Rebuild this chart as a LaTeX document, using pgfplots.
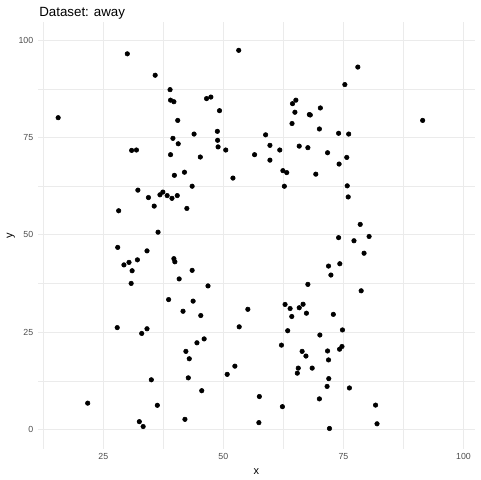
\documentclass[border=0pt]{standalone}
\usepackage{fontspec}
\setmainfont{Liberation Sans}
\usepackage{pgfplots}
\pgfplotsset{compat=1.18}
\definecolor{grid92}{HTML}{EBEBEB}
\definecolor{grey30}{HTML}{4D4D4D}
\begin{document}
\begin{tikzpicture}
\path[use as bounding box] (0,0) rectangle (360pt,360pt);
\begin{axis}[
    at={(28.5pt,23.25pt)}, anchor=south west,
    width=327.75pt, height=320.25pt, scale only axis,
    xmin=11.4, xmax=102.4, ymin=-4.97, ymax=104.67,
    axis line style={draw=none}, major tick length=0pt, minor tick length=0pt,
    xtick={25,50,75,100}, ytick={0,25,50,75,100},
    minor xtick={12.5,37.5,62.5,87.5}, minor ytick={12.5,37.5,62.5,87.5},
    grid=both,
    major grid style={color=grid92, line width=0.8pt},
    minor grid style={color=grid92, line width=0.4pt},
    /pgf/number format/assume math mode=true,
    ticklabel style={font=\fontsize{6.6}{7}\selectfont, text=grey30},
    xlabel={x}, ylabel={y},
    xlabel style={font=\fontsize{8.25}{9}\selectfont},
    every axis y label/.style={at={(axis description cs:-0.062,0.5)},
        anchor=center, rotate=90, font=\fontsize{8.25}{9}\selectfont},
]
\addplot[only marks, mark=*, mark size=1.7pt, black] coordinates {
(30.0,96.5)(35.8,91.0)(38.9,87.3)(39.0,84.6)(39.7,84.2)(15.6,80.1)
(40.5,79.4)(39.5,74.8)(40.6,73.4)(30.9,71.7)(31.9,71.8)(39.0,70.6)
(53.2,97.4)(46.5,85.0)(47.4,85.4)(49.2,81.9)(64.4,83.7)(65.1,84.6)
(64.9,81.5)(67.9,80.9)(68.1,80.8)(70.2,82.6)(64.3,78.6)(70.0,77.2)
(43.9,75.9)(48.75,76.6)(48.8,74.3)(48.9,72.6)(50.5,71.8)(58.8,75.7)
(59.7,73.0)(61.75,71.8)(65.8,72.8)(67.6,72.4)(45.2,70.0)(56.5,70.6)
(59.7,69.2)
(78.0,93.1)(75.3,88.6)(91.5,79.4)(74.0,76.1)(76.1,75.9)(71.7,71.1)
(75.7,69.9)(74.1,68.2)
(39.8,65.3)(41.9,66.1)(32.2,61.5)(34.4,59.6)(35.6,57.4)(36.8,60.3)
(37.4,61.0)(38.3,60.1)(39.3,59.4)(40.4,60.1)(28.2,56.2)(36.4,50.7)
(28.0,46.8)(34.1,45.9)(29.3,42.3)(30.35,42.95)(32.1,43.6)(31.0,40.8)
(39.7,43.9)(39.9,43.1)(30.8,37.55)(40.8,38.7)(38.6,33.4)
(43.5,62.5)(52.0,64.6)(62.4,66.5)(63.2,66.0)(69.25,65.6)(62.7,62.5)
(42.4,56.8)(43.5,40.9)(46.8,36.9)(67.6,37.3)(43.7,33.0)(62.85,32.15)
(63.9,31.1)(65.8,31.3)(66.6,32.2)(55.1,30.9)
(75.8,62.6)(76.0,59.75)(78.5,52.7)(74.0,49.3)(80.35,49.6)(77.2,48.5)
(79.3,45.3)(71.9,42.0)(72.4,39.7)(74.25,42.6)(78.7,35.65)
(41.6,30.4)(27.9,26.2)(33.0,24.7)(34.1,25.9)(35.0,12.8)(21.75,6.8)
(36.25,6.25)(32.5,2.05)(33.3,0.8)
(45.3,29.3)(64.25,29.05)(67.3,29.9)(53.3,26.4)(63.4,25.4)(70.1,24.3)
(46.0,23.3)(44.5,22.3)(62.1,21.7)(42.2,20.1)(42.9,18.2)(66.4,20.1)
(67.2,18.9)(52.4,16.3)(50.8,14.2)(65.6,15.8)(65.4,14.5)(68.5,15.8)
(42.7,13.3)(45.5,10.0)(57.5,8.5)(62.3,5.9)(70.0,7.9)(42.0,2.65)
(57.4,1.8)
(72.9,29.6)(74.8,25.6)(71.7,20.2)(74.2,20.65)(74.7,21.35)(71.9,17.9)
(71.95,13.1)(71.6,11.1)(76.25,10.7)(81.7,6.3)(82.0,1.5)(72.1,0.3)
};
\end{axis}
\node[anchor=base west, inner sep=0pt, font=\fontsize{10}{12}\selectfont]
    at (29.25pt,348pt) {Dataset: away};
\end{tikzpicture}
\end{document}
